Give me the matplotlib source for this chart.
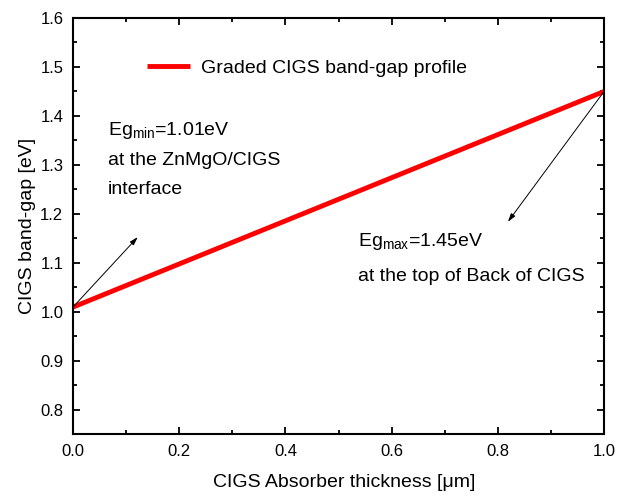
import matplotlib
matplotlib.use('Agg')
from matplotlib import pyplot as plt
from matplotlib.ticker import MultipleLocator, FormatStrFormatter

plt.rcParams['font.family'] = ['Liberation Sans', 'DejaVu Sans']
plt.rcParams['mathtext.fontset'] = 'custom'
plt.rcParams['mathtext.rm'] = 'Liberation Sans'
plt.rcParams['mathtext.it'] = 'Liberation Sans'

# graded band-gap: ZnMgO/CIGS interface -> back of CIGS
thickness = [0.0, 1.0]
band_gap = [1.01, 1.45]
eg_min = band_gap[0]
eg_max = band_gap[-1]

fig = plt.figure(figsize=(6.18, 4.97), dpi=100)
ax = fig.add_axes([73 / 618, 1 - 434 / 497, 531 / 618, 416 / 497])

ax.plot(thickness, band_gap, color='red', lw=3.5, solid_capstyle='butt',
        label='Graded CIGS band-gap profile')

ax.set_xlim(0, 1.0)
ax.set_ylim(0.751, 1.6)
ax.xaxis.set_major_locator(MultipleLocator(0.2))
ax.xaxis.set_minor_locator(MultipleLocator(0.1))
ax.yaxis.set_major_locator(MultipleLocator(0.1))
ax.yaxis.set_minor_locator(MultipleLocator(0.05))
ax.tick_params(which='both', direction='in', top=True, right=True, width=1.3, labelsize=12)
ax.tick_params(which='major', length=5, pad=7)
ax.tick_params(which='minor', length=3)
ax.xaxis.set_major_formatter(FormatStrFormatter('%.1f'))
ax.yaxis.set_major_formatter(FormatStrFormatter('%.1f'))
for s in ax.spines.values():
    s.set_linewidth(1.5)

ax.set_xlabel('CIGS Absorber thickness [μm]', fontsize=14)
ax.xaxis.set_label_coords(0.51, -0.096)
ax.set_ylabel('CIGS band-gap [eV]', fontsize=14, labelpad=3)

ax.legend(loc='upper left', bbox_to_anchor=(0.106, 0.942), frameon=False, fontsize=14,
          handlelength=2.2, handletextpad=0.6)

arrow = dict(arrowstyle='-|>,head_length=0.5,head_width=0.15', color='black', lw=0.7,
             shrinkA=0, shrinkB=0)
ax.annotate('', xy=(0.122, 1.153), xytext=(thickness[0], eg_min), arrowprops=arrow)
ax.annotate('', xy=(0.819, 1.184), xytext=(thickness[-1], eg_max), arrowprops=arrow)

txt = dict(fontsize=14, ha='left', va='baseline')
ax.text(0.066, 1.362, 'Eg$_{\\mathrm{min}}$=%.2feV' % eg_min, **txt)
ax.text(0.066, 1.300, 'at the ZnMgO/CIGS', **txt)
ax.text(0.066, 1.241, 'interface', **txt)
ax.text(0.537, 1.135, 'Eg$_{\\mathrm{max}}$=%.2feV' % eg_max, **txt)
ax.text(0.537, 1.064, 'at the top of Back of CIGS', **txt)

fig.savefig('out.png', dpi=100)
